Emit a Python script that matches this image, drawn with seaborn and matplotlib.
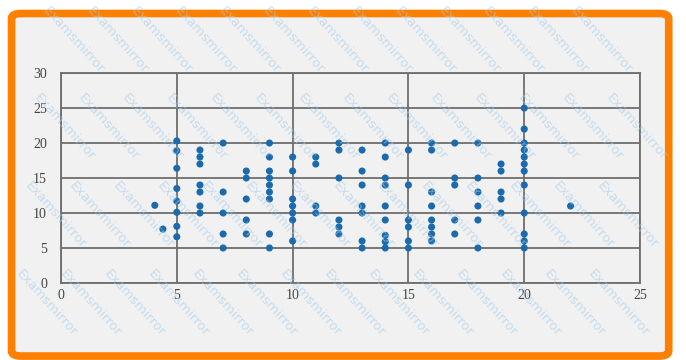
import math
import matplotlib
matplotlib.use("Agg")
import matplotlib.pyplot as plt
from matplotlib.patches import FancyBboxPatch
import seaborn as sns
import pandas as pd

# Data (x, y)
x_vals = (
    [4.05, 4.4]
    + [5] * 8
    + [6] * 7
    + [7] * 5
    + [8] * 5
    + [9] * 9
    + [10] * 7
    + [11] * 4
    + [12] * 6
    + [13] * 7
    + [14] * 9
    + [15] * 6
    + [16] * 8
    + [17] * 5
    + [18] * 6
    + [19] * 5
    + [20] * 12
    + [22]
)
y_vals = (
    [11.1, 7.7]
    + [20.3, 18.9, 16.4, 13.5, 11.7, 10.1, 8.1, 6.6]
    + [19, 18, 17, 14, 13, 11, 10]
    + [20, 13, 10, 7, 5]
    + [16, 15, 12, 9, 7]
    + [20, 18, 16, 15, 14, 13, 12, 7, 5]
    + [18, 16, 12, 11, 10, 9, 6]
    + [18, 17, 11, 10]
    + [20, 19, 15, 9, 8, 7]
    + [19, 16, 14, 11, 10, 6, 5]
    + [20, 18, 15, 14, 11, 9, 6.8, 5.9, 5]
    + [19, 14, 9, 8, 6, 5]
    + [20, 19, 13, 11, 9, 8, 7, 6]
    + [20, 15, 14, 9, 7]
    + [20, 15, 13, 11, 9, 5]
    + [17, 16, 13, 12, 10]
    + [25, 22, 20, 19, 18, 17, 16, 14, 10, 7, 6, 5]
    + [11]
)
x_ticks = [0, 5, 10, 15, 20, 25]
y_ticks = [0, 5, 10, 15, 20, 25, 30]
watermark = "Examsmirror"

df = pd.DataFrame({"x": x_vals, "y": y_vals})

sns.set_theme(style="white")
plt.rcParams["font.family"] = ["Liberation Serif", "DejaVu Serif"]

W, H = 686, 360
fig = plt.figure(figsize=(W / 100, H / 100), dpi=100)
fig.patch.set_facecolor("white")

# rounded orange border with light gray fill
border = FancyBboxPatch((0.0168, 0.011), 0.958, 0.9515,
                        boxstyle="round,pad=0,rounding_size=0.014",
                        transform=fig.transFigure, facecolor="#f1f1f1",
                        edgecolor="#ff8000", linewidth=5.5, zorder=-5)
fig.patches.append(border)

ax = fig.add_axes([0.0889, 0.214, 0.8441, 0.583])
ax.set_zorder(1)
ax.set_facecolor("#f1f1f1")
sns.scatterplot(data=df, x="x", y="y", ax=ax, color="#1a6aad",
                s=26, edgecolor="none", zorder=3, legend=False)

ax.set_xlim(0, 25)
ax.set_ylim(0, 30)
ax.set_xticks(x_ticks)
ax.set_yticks(y_ticks)
ax.set_xlabel("")
ax.set_ylabel("")
ax.grid(True, color="#6e6e6e", linewidth=1.3, zorder=1)
ax.set_axisbelow(True)
for sp in ax.spines.values():
    sp.set_visible(True)
    sp.set_color("#6e6e6e")
    sp.set_linewidth(1.3)
ax.tick_params(axis="both", length=0, labelsize=10, labelcolor="#444444")
ax.tick_params(axis="y", pad=10)
ax.tick_params(axis="x", pad=4)

# watermark, tiled on a diagonal lattice; only copies fully inside the figure
ang = 48.0
L = 92.0  # approx text length in px
ca, sa = math.cos(math.radians(ang)), math.sin(math.radians(ang))
step_along = 118.0
step_across = 44.0
for i in range(-6, 8):
    for j in range(-20, 25):
        px = 6 + i * step_along * ca + j * step_across
        py = 4 + i * step_along * sa
        if (px - 14 < 1 or py < 3 or px + L * ca + 8 > W - 1
                or py + L * sa + 10 > H - 1):
            continue
        fig.text(px / W, 1 - py / H, watermark, rotation=-ang, fontsize=9.5,
                 family="DejaVu Sans", color="#a3cbec", alpha=0.55,
                 ha="left", va="top", rotation_mode="anchor", zorder=10)

fig.savefig("out.png", dpi=100, facecolor="white")
